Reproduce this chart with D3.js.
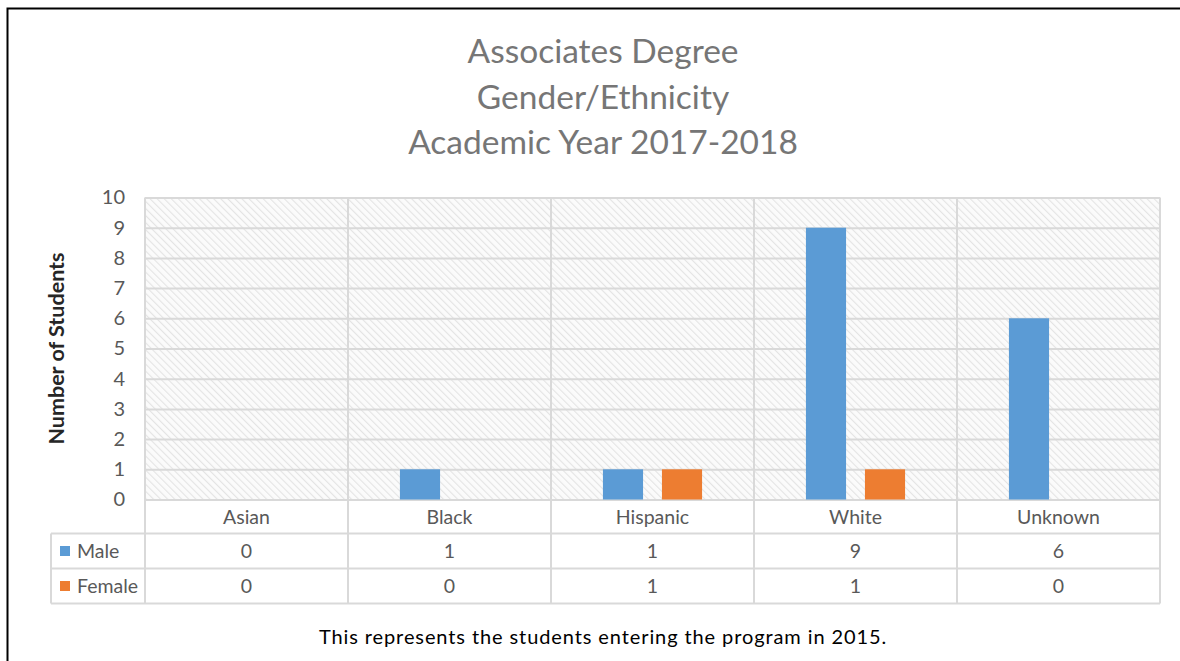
<!DOCTYPE html>
<html>
<head>
<meta charset="utf-8">
<script src="https://cdn.jsdelivr.net/npm/d3@7"></script>
<style>
  body { margin: 0; background: #fff; }
  svg { display: block; font-family: Lato, "Open Sans", sans-serif; }
</style>
</head>
<body>
<svg id="chart" width="1180" height="661"></svg>
<script>
// data
var categories = ["Asian", "Black", "Hispanic", "White", "Unknown"];
var seriesNames = ["Male", "Female"];
var maleValues = [0, 1, 1, 9, 6];
var femaleValues = [0, 0, 1, 1, 0];
var yTicks = [0, 1, 2, 3, 4, 5, 6, 7, 8, 9, 10];
var titleLines = ["Associates Degree", "Gender/Ethnicity", "Academic Year 2017-2018"];
var footnote = "This represents the students entering the program in 2015.";

var colors = { Male: "#5B9BD5", Female: "#ED7D31" };
var series = [
  { name: "Male", values: maleValues },
  { name: "Female", values: femaleValues }
];

// layout
var plot = { left: 145, right: 1160, top: 197.5, bottom: 499.5 };
var rowH = [34, 35, 35];
var legendLeft = 51;
var gridColor = "#d9d9d9";
var textColor = "#595959";

var svg = d3.select("#chart");

// outer frame (continues past right/bottom edge)
svg.append("rect")
  .attr("x", 7.5).attr("y", 8.5)
  .attr("width", 1200).attr("height", 700)
  .attr("fill", "none").attr("stroke", "#000").attr("stroke-width", 2);

// hatch pattern for plot area
var defs = svg.append("defs");
var pat = defs.append("pattern")
  .attr("id", "hatch")
  .attr("patternUnits", "userSpaceOnUse")
  .attr("width", 5).attr("height", 5)
  .attr("patternTransform", "rotate(-45)");
pat.append("rect").attr("width", 5).attr("height", 5).attr("fill", "#fbfbfb");
pat.append("line")
  .attr("x1", 0).attr("y1", 0).attr("x2", 0).attr("y2", 5)
  .attr("stroke", "#e4e4e4").attr("stroke-width", 2.2);

// title
svg.append("g").selectAll("text")
  .data(titleLines)
  .join("text")
  .attr("x", 603)
  .attr("y", function (d, i) { return 63 + i * 45.5; })
  .attr("text-anchor", "middle")
  .attr("font-size", 33.5)
  .attr("fill", "#767676")
  .text(function (d) { return d; });

// scales
var x0 = d3.scaleBand().domain(categories).range([plot.left, plot.right]);
var x1 = d3.scaleBand().domain(seriesNames).range([0, x0.bandwidth()])
  .paddingInner(0.32).paddingOuter(0.88);
var y = d3.scaleLinear().domain([0, 10]).range([plot.bottom, plot.top]);

svg.append("rect")
  .attr("x", plot.left).attr("y", plot.top)
  .attr("width", plot.right - plot.left).attr("height", plot.bottom - plot.top)
  .attr("fill", "url(#hatch)");

// horizontal gridlines
var yAxis = svg.append("g")
  .attr("transform", "translate(" + plot.left + ",0)")
  .call(d3.axisLeft(y).tickValues(yTicks).tickSize(-(plot.right - plot.left)).tickPadding(20));
yAxis.select(".domain").remove();
yAxis.selectAll(".tick line").attr("stroke", gridColor).attr("stroke-width", 2);
yAxis.selectAll(".tick text")
  .attr("font-size", 20).attr("fill", textColor)
  .attr("font-family", "Lato, 'Open Sans', sans-serif");

// vertical column lines through plot + table
var tableBottom = plot.bottom + d3.sum(rowH);
var colEdges = categories.map(function (c) { return x0(c); }).concat([plot.right]);
svg.append("g").selectAll("line")
  .data(colEdges)
  .join("line")
  .attr("x1", function (d) { return d; }).attr("x2", function (d) { return d; })
  .attr("y1", plot.top).attr("y2", tableBottom)
  .attr("stroke", gridColor).attr("stroke-width", 2);

// bars
svg.append("g").selectAll("g")
  .data(series)
  .join("g")
  .attr("fill", function (d) { return colors[d.name]; })
  .selectAll("rect")
  .data(function (s) {
    return s.values.map(function (v, i) { return { cat: categories[i], name: s.name, v: v }; });
  })
  .join("rect")
  .attr("x", function (d) { return x0(d.cat) + x1(d.name); })
  .attr("width", x1.bandwidth())
  .attr("y", function (d) { return y(d.v); })
  .attr("height", function (d) { return y(0) - y(d.v); });

// data table
var rowY = [plot.bottom, plot.bottom + rowH[0], plot.bottom + rowH[0] + rowH[1], tableBottom];
var table = svg.append("g");
table.selectAll("line.h")
  .data(rowY.slice(1))
  .join("line")
  .attr("class", "h")
  .attr("x1", legendLeft)
  .attr("x2", plot.right)
  .attr("y1", function (d) { return d; }).attr("y2", function (d) { return d; })
  .attr("stroke", gridColor).attr("stroke-width", 2);
table.append("line")
  .attr("x1", legendLeft).attr("x2", legendLeft)
  .attr("y1", rowY[1]).attr("y2", tableBottom)
  .attr("stroke", gridColor).attr("stroke-width", 2);

// category header labels
table.selectAll("text.cat")
  .data(categories)
  .join("text")
  .attr("class", "cat")
  .attr("x", function (d) { return x0(d) + x0.bandwidth() / 2; })
  .attr("y", (rowY[0] + rowY[1]) / 2 + 7)
  .attr("text-anchor", "middle")
  .attr("font-size", 19.5).attr("fill", textColor)
  .text(function (d) { return d; });

// series rows
series.forEach(function (s, si) {
  var cy = (rowY[si + 1] + rowY[si + 2]) / 2;
  table.append("rect")
    .attr("x", 60).attr("y", cy - 5)
    .attr("width", 10).attr("height", 10)
    .attr("fill", colors[s.name]);
  table.append("text")
    .attr("x", 77).attr("y", cy + 7)
    .attr("font-size", 19.5).attr("fill", textColor)
    .text(s.name);
  table.selectAll("text.v" + si)
    .data(s.values)
    .join("text")
    .attr("class", "v" + si)
    .attr("x", function (d, i) { return x0(categories[i]) + x0.bandwidth() / 2; })
    .attr("y", cy + 7)
    .attr("text-anchor", "middle")
    .attr("font-size", 19.5).attr("fill", textColor)
    .text(function (d) { return d; });
});

// y axis title
svg.append("text")
  .attr("transform", "translate(64," + ((plot.top + plot.bottom) / 2) + ") rotate(-90)")
  .attr("text-anchor", "middle")
  .attr("font-size", 21.5).attr("font-weight", "bold")
  .attr("fill", "#262626")
  .text("Number of Students");

// footnote
svg.append("text")
  .attr("x", 603).attr("y", 644)
  .attr("text-anchor", "middle")
  .attr("font-size", 20).attr("letter-spacing", 0.9).attr("fill", "#000")
  .text(footnote);
</script>
</body>
</html>
